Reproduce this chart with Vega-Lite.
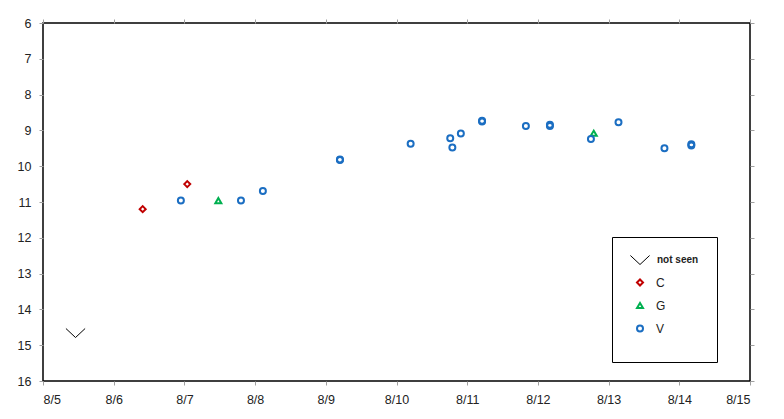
{
  "$schema": "https://vega.github.io/schema/vega-lite/v6.json",
  "width": 707,
  "height": 358,
  "autosize": {"type": "none"},
  "padding": {"left": 43, "top": 23, "right": 34, "bottom": 38},
  "background": "white",
  "config": {
    "font": "Liberation Sans",
    "view": {"stroke": "#000000", "strokeWidth": 1.5},
    "axis": {"grid": false, "domain": false, "tickColor": "#a0a0a0", "tickSize": 4, "tickWidth": 1, "labelFontSize": 12.5, "labelColor": "#222222", "labelFont": "Liberation Sans", "title": null},
    "legend": {"labelFont": "Liberation Sans", "labelColor": "#222222"}
  },
  "layer": [
    {
      "data": {
        "values": [
          {"day": 6.41, "mag": 11.2, "type": "C"},
          {"day": 7.04, "mag": 10.5, "type": "C"},
          {"day": 7.48, "mag": 10.96, "type": "G"},
          {"day": 12.79, "mag": 9.08, "type": "G"},
          {"day": 6.95, "mag": 10.96, "type": "V"},
          {"day": 7.8, "mag": 10.96, "type": "V"},
          {"day": 8.11, "mag": 10.69, "type": "V"},
          {"day": 9.2, "mag": 9.81, "type": "V"},
          {"day": 9.2, "mag": 9.83, "type": "V"},
          {"day": 10.2, "mag": 9.37, "type": "V"},
          {"day": 10.76, "mag": 9.22, "type": "V"},
          {"day": 10.79, "mag": 9.48, "type": "V"},
          {"day": 10.91, "mag": 9.09, "type": "V"},
          {"day": 11.21, "mag": 8.73, "type": "V"},
          {"day": 11.21, "mag": 8.75, "type": "V"},
          {"day": 11.83, "mag": 8.88, "type": "V"},
          {"day": 12.17, "mag": 8.84, "type": "V"},
          {"day": 12.17, "mag": 8.88, "type": "V"},
          {"day": 12.75, "mag": 9.24, "type": "V"},
          {"day": 13.14, "mag": 8.77, "type": "V"},
          {"day": 13.79, "mag": 9.5, "type": "V"},
          {"day": 14.17, "mag": 9.39, "type": "V"},
          {"day": 14.17, "mag": 9.42, "type": "V"}
        ]
      },
      "mark": {"type": "point", "filled": false, "size": 36, "opacity": 1, "strokeWidth": 2},
      "encoding": {
        "x": {
          "field": "day", "type": "quantitative",
          "scale": {"domain": [5, 15], "nice": false, "zero": false},
          "axis": {"orient": "bottom", "values": [5, 6, 7, 8, 9, 10, 11, 12, 13, 14, 15], "labelExpr": "'8/' + datum.value", "labelPadding": 8}
        },
        "y": {
          "field": "mag", "type": "quantitative",
          "scale": {"domain": [6, 16], "reverse": true, "nice": false, "zero": false},
          "axis": {"orient": "left", "values": [6, 7, 8, 9, 10, 11, 12, 13, 14, 15, 16], "labelPadding": 8}
        },
        "shape": {
          "field": "type", "type": "nominal",
          "scale": {"domain": ["C", "G", "V"], "range": ["diamond", "triangle-up", "circle"]},
          "legend": null
        },
        "color": {
          "field": "type", "type": "nominal",
          "scale": {"domain": ["C", "G", "V"], "range": ["#C00000", "#00B050", "#1B6EC2"]},
          "legend": {
            "orient": "none", "legendX": 591, "legendY": 253.5,
            "title": null, "padding": 0, "rowPadding": 9,
            "symbolSize": 36, "symbolStrokeWidth": 2, "symbolOffset": 0, "labelOffset": 10,
            "labelFontSize": 12
          }
        }
      }
    },
    {
      "data": {
        "values": [
          {"day": 5.46, "mag": 14.66, "type": "not seen"}
        ]
      },
      "mark": {"type": "point", "filled": false, "size": 36, "opacity": 1, "strokeWidth": 1},
      "encoding": {
        "x": {"field": "day", "type": "quantitative", "scale": {"domain": [5, 15], "nice": false, "zero": false}, "axis": null},
        "y": {"field": "mag", "type": "quantitative", "scale": {"domain": [6, 16], "reverse": true, "nice": false, "zero": false}, "axis": null},
        "shape": {
          "field": "type", "type": "nominal",
          "scale": {"domain": ["not seen"], "range": ["M-3.2,-1.5L0,1.5L3.2,-1.5"]},
          "legend": null
        },
        "color": {
          "field": "type", "type": "nominal",
          "scale": {"domain": ["not seen"], "range": ["#000000"]},
          "legend": {
            "orient": "none", "legendX": 569, "legendY": 214,
            "title": " ", "titleOrient": "bottom", "titleFontSize": 60, "titlePadding": 18,
            "strokeColor": "#000000", "padding": 18,
            "symbolSize": 36, "symbolStrokeWidth": 1, "symbolOffset": 5, "labelOffset": 12,
            "labelFontSize": 10, "labelFontWeight": "bold"
          }
        }
      }
    },
    {
      "data": {"values": []},
      "mark": {"type": "point"},
      "encoding": {
        "x": {
          "field": "day", "type": "quantitative",
          "scale": {"domain": [5, 15], "nice": false, "zero": false},
          "axis": {"orient": "top", "values": [5, 6, 7, 8, 9, 10, 11, 12, 13, 14, 15], "labels": false}
        },
        "y": {
          "field": "mag", "type": "quantitative",
          "scale": {"domain": [6, 16], "reverse": true, "nice": false, "zero": false},
          "axis": {"orient": "right", "values": [6, 7, 8, 9, 10, 11, 12, 13, 14, 15, 16], "labels": false}
        }
      }
    }
  ],
  "resolve": {
    "axis": {"x": "independent", "y": "independent"},
    "scale": {"color": "independent", "shape": "independent"},
    "legend": {"color": "independent", "shape": "independent"}
  }
}
